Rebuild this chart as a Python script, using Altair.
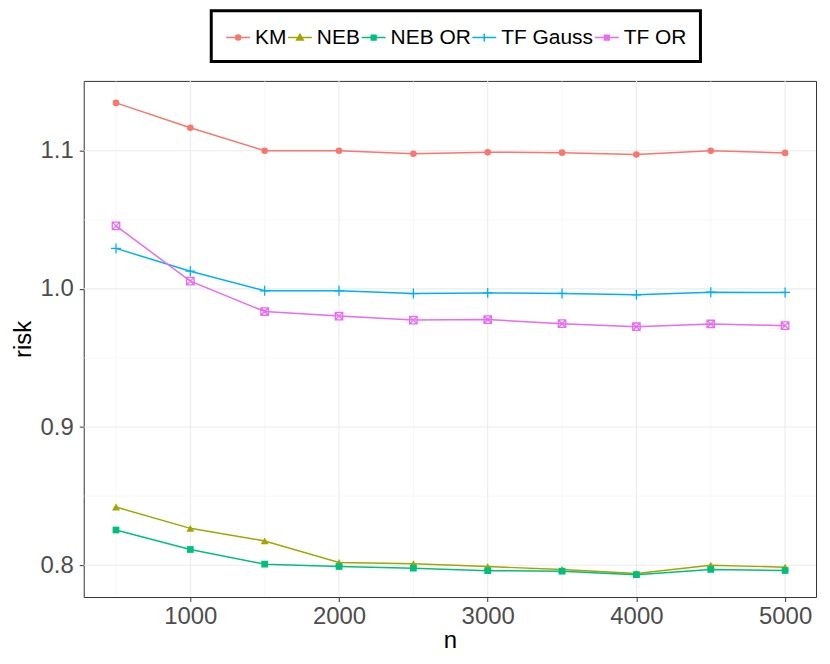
import altair as alt
import pandas as pd

# ---- data ----
n_values = [500, 1000, 1500, 2000, 2500, 3000, 3500, 4000, 4500, 5000]
series_names = ["KM", "NEB", "NEB OR", "TF Gauss", "TF OR"]
km = [1.1346, 1.1166, 1.1000, 1.1000, 1.0978, 1.0989, 1.0986, 1.0973, 1.1000, 1.0984]
neb = [0.8421, 0.8267, 0.8176, 0.8020, 0.8011, 0.7990, 0.7970, 0.7941, 0.8000, 0.7986]
neb_or = [0.8255, 0.8114, 0.8008, 0.7991, 0.7979, 0.7961, 0.7957, 0.7932, 0.7970, 0.7962]
tf_gauss = [1.0293, 1.0128, 0.9986, 0.9986, 0.9966, 0.9971, 0.9967, 0.9957, 0.9976, 0.9974]
tf_or = [1.0456, 1.0056, 0.9836, 0.9803, 0.9774, 0.9778, 0.9748, 0.9726, 0.9746, 0.9734]

x_major = [1000, 2000, 3000, 4000, 5000]
x_minor = [500, 1500, 2500, 3500, 4500]
y_major = [0.8, 0.9, 1.0, 1.1]
y_minor = [0.85, 0.95, 1.05]

colors = ["#F8766D", "#A3A500", "#00BF7D", "#00B0F6", "#E76BF3"]
fills = ["#F8766D", "#A3A500", "#00BF7D", "transparent", "transparent"]
marker_shapes = [
    "circle",
    "triangle-up",
    "square",
    "M-1,0L1,0M0,-1L0,1",
    "M-1,-1H1V1H-1ZM-1,-1L1,1M-1,1L1,-1",
]
marker_filled = [True, True, True, False, False]
marker_sizes = [44, 64, 46, 100, 56]

# legend symbols: a line through a small marker
leg_line = "M-1,0L1,0"
legend_shapes = [
    leg_line + "M-0.21,0A0.21,0.21,0,1,1,0.21,0A0.21,0.21,0,1,1,-0.21,0Z",
    leg_line + "M0,-0.28L0.27,0.2L-0.27,0.2Z",
    leg_line + "M-0.2,-0.2H0.2V0.2H-0.2Z",
    leg_line + "M0,-0.32V0.32",
    leg_line + "M-0.2,-0.2H0.2V0.2H-0.2ZM-0.2,-0.2L0.2,0.2M-0.2,0.2L0.2,-0.2",
]

all_vals = [km, neb, neb_or, tf_gauss, tf_or]
rows = []
for name, vals in zip(series_names, all_vals):
    for n, v in zip(n_values, vals):
        rows.append({"n": n, "risk": v, "method": name})
df = pd.DataFrame(rows)

FONT = "Liberation Sans"

legend = alt.Legend(
    title=None,
    orient="none",
    legendX=128,
    legendY=-70.5,
    direction="horizontal",
    columns=5,
    labelFont=FONT,
    labelFontSize=21,
    labelColor="#000000",
    labelOffset=4,
    columnPadding=-4,
    symbolSize=576,
    symbolStrokeWidth=1.5,
    symbolOpacity=1,
    padding=14,
    strokeColor="#000000",
)

xscale = alt.Scale(domain=[283, 5208], nice=False, zero=False)
yscale = alt.Scale(domain=[0.777, 1.1505], nice=False, zero=False)
xaxis = alt.Axis(values=x_major, grid=False, title="n", format="d")
yaxis = alt.Axis(values=y_major, grid=False, title="risk", format=".1f")

color_enc = alt.Color("method:N", scale=alt.Scale(domain=series_names, range=colors), legend=legend)
X = alt.X("n:Q", scale=xscale, axis=xaxis)
Y = alt.Y("risk:Q", scale=yscale, axis=yaxis)

layers = []
layers.append(
    alt.Chart(pd.DataFrame({"v": x_minor})).mark_rule(color="#F2F2F2", strokeWidth=0.6).encode(
        x=alt.X("v:Q", scale=xscale, axis=xaxis))
)
layers.append(
    alt.Chart(pd.DataFrame({"v": y_minor})).mark_rule(color="#F2F2F2", strokeWidth=0.6).encode(
        y=alt.Y("v:Q", scale=yscale, axis=yaxis))
)
layers.append(
    alt.Chart(pd.DataFrame({"v": x_major})).mark_rule(color="#EBEBEB", strokeWidth=1.1).encode(
        x=alt.X("v:Q", scale=xscale, axis=xaxis))
)
layers.append(
    alt.Chart(pd.DataFrame({"v": y_major})).mark_rule(color="#EBEBEB", strokeWidth=1.1).encode(
        y=alt.Y("v:Q", scale=yscale, axis=yaxis))
)

base = alt.Chart(df)
layers.append(base.mark_line(strokeWidth=1.5).encode(x=X, y=Y, color=color_enc))

for name, shp, filled, sz in zip(series_names, marker_shapes, marker_filled, marker_sizes):
    layers.append(
        base.transform_filter(alt.datum.method == name)
        .mark_point(shape=shp, filled=filled, size=sz, opacity=1, strokeWidth=1.3)
        .encode(x=X, y=Y, color=color_enc)
    )

# legend-only layer (no marks drawn)
layers.append(
    base.transform_filter("false")
    .mark_point(filled=False, opacity=1, strokeWidth=1.5)
    .encode(
        x=X,
        y=Y,
        color=color_enc,
        shape=alt.Shape("method:N", scale=alt.Scale(domain=series_names, range=legend_shapes), legend=legend),
        fill=alt.Fill("method:N", scale=alt.Scale(domain=series_names, range=fills), legend=legend),
    )
)

chart = (
    alt.layer(*layers)
    .properties(width=735, height=518, padding={"left": 3, "top": 0, "right": 5, "bottom": 0})
    .configure_view(stroke="#333333", strokeWidth=1)
    .configure_legend(strokeWidth=3)
    .configure_axis(
        domain=False,
        tickColor="#333333",
        tickSize=4.5,
        tickWidth=1,
        labelFont=FONT,
        labelFontSize=24,
        labelColor="#4D4D4D",
        titleFont=FONT,
        titleFontSize=24,
        titleFontWeight="normal",
        titleColor="#000000",
    )
    .configure_axisX(labelPadding=3, titlePadding=0)
    .configure_axisY(labelPadding=6, titlePadding=5)
)

chart.save("out.html", embed_options={"renderer": "svg", "actions": False})
